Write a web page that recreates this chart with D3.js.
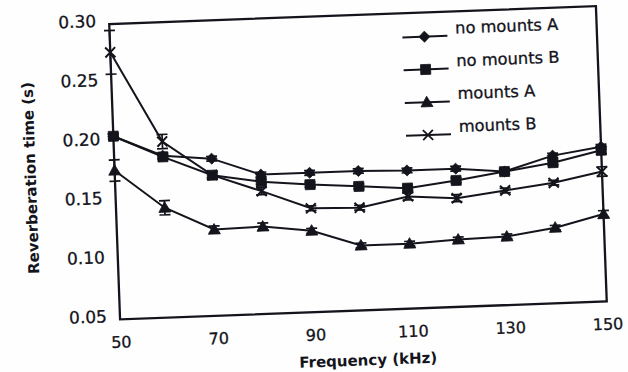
<!DOCTYPE html>
<html>
<head>
<meta charset="utf-8">
<script src="https://cdn.jsdelivr.net/npm/d3@7"></script>
<style>
  body { margin: 0; background: #fff; }
  svg { display: block; }
</style>
</head>
<body>
<svg id="chart" width="628" height="372"></svg>
<script>
// frequencies in kHz, reverberation times in s
var frequencies = [50, 60, 70, 80, 90, 100, 110, 120, 130, 140, 150];
var xTicks = [50, 70, 90, 110, 130, 150];
var yTicks = [0.05, 0.10, 0.15, 0.20, 0.25, 0.30];

var noMountsA = [0.205, 0.187, 0.183, 0.168, 0.168, 0.168, 0.167, 0.167, 0.163, 0.175, 0.181];
var noMountsB = [0.205, 0.186, 0.169, 0.162, 0.158, 0.155, 0.152, 0.157, 0.163, 0.169, 0.178];
var mountsA = [0.176, 0.143, 0.123, 0.124, 0.119, 0.105, 0.105, 0.107, 0.108, 0.114, 0.124];
var mountsB = [0.276, 0.199, 0.169, 0.154, 0.138, 0.137, 0.145, 0.142, 0.147, 0.152, 0.160];

var noMountsAErr = [0.002, 0.002, 0.002, 0.002, 0.002, 0.002, 0.002, 0.002, 0.002, 0.002, 0.002];
var noMountsBErr = [0.002, 0.002, 0.002, 0.002, 0.002, 0.002, 0.002, 0.002, 0.002, 0.002, 0.003];
var mountsAErr = [0.009, 0.006, 0.003, 0.003, 0.002, 0.002, 0.002, 0.002, 0.002, 0.002, 0.003];
var mountsBErr = [0.0185, 0.006, 0.003, 0.003, 0.002, 0.002, 0.003, 0.003, 0.002, 0.002, 0.004];

var seriesNames = ["no mounts A", "no mounts B", "mounts A", "mounts B"];

var series = [
    {name: seriesNames[0], values: noMountsA, err: noMountsAErr, marker: "diamond"},
    {name: seriesNames[1], values: noMountsB, err: noMountsBErr, marker: "square"},
    {name: seriesNames[2], values: mountsA, err: mountsAErr, marker: "triangle"},
    {name: seriesNames[3], values: mountsB, err: mountsBErr, marker: "cross"}
];

var ink = "#14141c";
var plot = {left: 114.5, top: 15, width: 487, height: 295.5};

var svg = d3.select("#chart");
svg.append("rect").attr("width", 628).attr("height", 372).attr("fill", "#fefefe");

// the scanned figure sits slightly tilted
var g = svg.append("g").attr("transform", "rotate(-2.1, 358, 163)");

var x = d3.scaleLinear().domain([50, 150]).range([plot.left, plot.left + plot.width]);
var y = d3.scaleLinear().domain([0.05, 0.30]).range([plot.top + plot.height, plot.top]);

function markerPath(type) {
    if (type === "diamond") return "M0,-5.5L5.5,0L0,5.5L-5.5,0Z";
    if (type === "square") return "M-5,-5H5V5H-5Z";
    if (type === "triangle") return "M0,-6L6,4.5L-6,4.5Z";
    return "M-5,-5L5,5M5,-5L-5,5";
}

// axes
var xAxis = g.append("g")
    .attr("transform", "translate(0," + (plot.top + plot.height) + ")")
    .call(d3.axisBottom(x).tickValues(xTicks).tickSize(0).tickPadding(17).tickFormat(d3.format("d")));

var yAxis = g.append("g")
    .attr("transform", "translate(" + plot.left + ",0)")
    .call(d3.axisLeft(y).tickValues(yTicks).tickSize(0).tickPadding(13).tickFormat(d3.format(".2f")));

[xAxis, yAxis].forEach(ax => {
    ax.select(".domain").remove();
    ax.selectAll("text")
        .attr("fill", ink)
        .attr("stroke", ink)
        .attr("stroke-width", 0.3)
        .style("font-family", "'DejaVu Sans', sans-serif");
});
xAxis.selectAll("text").style("font-size", "16px");
yAxis.selectAll("text").style("font-size", "17px").attr("dy", "0.12em");

// frame
g.append("rect")
    .attr("x", plot.left)
    .attr("y", plot.top)
    .attr("width", plot.width)
    .attr("height", plot.height)
    .attr("fill", "none")
    .attr("stroke", ink)
    .attr("stroke-width", 2.3);

var line = d3.line()
    .x((d, i) => x(frequencies[i]))
    .y(d => y(d));

var groups = g.selectAll(".series")
    .data(series)
    .enter()
    .append("g")
    .classed("series", true);

groups.append("path")
    .attr("d", s => line(s.values))
    .attr("fill", "none")
    .attr("stroke", ink)
    .attr("stroke-width", 2);

var points = groups.selectAll(".pt")
    .data(s => s.values.map((v, i) => ({v: v, e: s.err[i], f: frequencies[i], marker: s.marker})))
    .enter()
    .append("g")
    .classed("pt", true);

points.append("path")
    .attr("d", d => "M" + (x(d.f) - 5.5) + "," + y(d.v + d.e) + "H" + (x(d.f) + 5.5)
        + "M" + x(d.f) + "," + y(d.v + d.e) + "V" + y(d.v - d.e)
        + "M" + (x(d.f) - 5.5) + "," + y(d.v - d.e) + "H" + (x(d.f) + 5.5))
    .attr("fill", "none")
    .attr("stroke", ink)
    .attr("stroke-width", 1.7);

points.append("path")
    .attr("transform", d => "translate(" + x(d.f) + "," + y(d.v) + ")")
    .attr("d", d => markerPath(d.marker))
    .attr("fill", d => d.marker === "cross" ? "none" : ink)
    .attr("stroke", ink)
    .attr("stroke-width", d => d.marker === "cross" ? 2 : 0.8);

// legend
var legend = g.selectAll(".legendItem")
    .data(series)
    .enter()
    .append("g")
    .classed("legendItem", true)
    .attr("transform", (s, i) => "translate(0," + (39.2 + i * 32.8) + ")");

legend.append("line")
    .attr("x1", 407)
    .attr("x2", 452)
    .attr("stroke", ink)
    .attr("stroke-width", 2);

legend.append("path")
    .attr("transform", "translate(429,0)")
    .attr("d", s => markerPath(s.marker))
    .attr("fill", s => s.marker === "cross" ? "none" : ink)
    .attr("stroke", ink)
    .attr("stroke-width", s => s.marker === "cross" ? 1.8 : 0.8);

legend.append("text")
    .attr("x", 460)
    .attr("y", -2)
    .attr("fill", ink)
    .attr("stroke", ink)
    .attr("stroke-width", 0.3)
    .style("font-family", "'DejaVu Sans', sans-serif")
    .style("font-size", "16.3px")
    .text(s => s.name);

// axis titles
g.append("text")
    .attr("x", 361)
    .attr("y", 365.5)
    .attr("text-anchor", "middle")
    .attr("fill", ink)
    .style("font-family", "'DejaVu Sans', sans-serif")
    .style("font-size", "15px")
    .style("font-weight", "bold")
    .text("Frequency (kHz)");

g.append("text")
    .attr("transform", "translate(35.5,166) rotate(-90)")
    .attr("text-anchor", "middle")
    .attr("fill", ink)
    .style("font-family", "'DejaVu Sans', sans-serif")
    .style("font-size", "15px")
    .style("font-weight", "bold")
    .text("Reverberation time (s)");
</script>
</body>
</html>
